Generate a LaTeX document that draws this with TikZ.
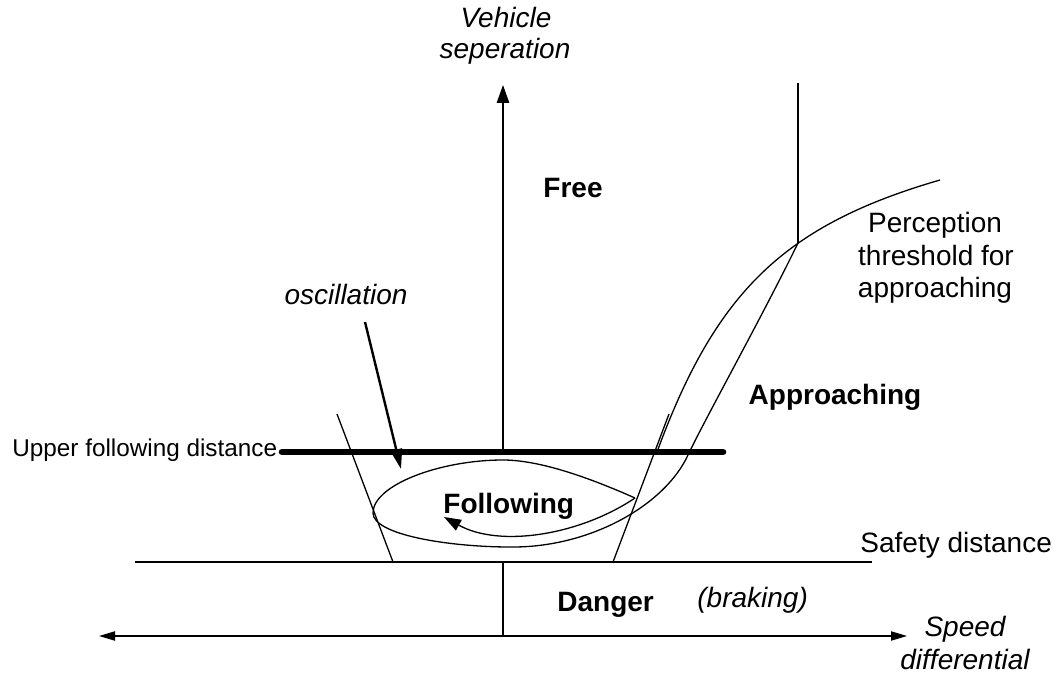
\documentclass[tikz,border=0pt]{standalone}
\usepackage{fontspec}
\setmainfont{Liberation Sans}
\usetikzlibrary{arrows.meta}
\begin{document}
\begin{tikzpicture}[x=0.5pt,y=-0.5pt,
  thin line/.style={line width=0.65pt, line join=round},
  lbl/.style={inner sep=0pt, font=\fontsize{14pt}{16pt}\selectfont},
  lblb/.style={lbl, font=\fontsize{14pt}{16pt}\selectfont\bfseries},
  lbli/.style={lbl, font=\fontsize{14pt}{16pt}\selectfont\itshape},
  both tips/.style={{Triangle[length=8pt,width=4.6pt]}-{Triangle[length=8pt,width=4.6pt]}}]
\useasboundingbox (0,0) rectangle (1060,673);

% key points
\coordinate (vtop) at (503,85);
\coordinate (vthick) at (503,452);
\coordinate (vsafe) at (503,562);
\coordinate (vaxis) at (503,636);
\coordinate (hleft) at (99,636);
\coordinate (hright) at (907,636);
\coordinate (sleft) at (135,562);
\coordinate (sright) at (872,562);
\coordinate (tleft) at (282,452);
\coordinate (tright) at (723,452);
\coordinate (ltop) at (337,414);
\coordinate (lbot) at (393,562);
\coordinate (rtop) at (669,414);
\coordinate (rbot) at (613,562);
\coordinate (ptop) at (798,83);
\coordinate (pmeet) at (798,243);
\coordinate (pend) at (940,180);
\coordinate (pbot) at (657,452);
\coordinate (tip) at (635,498);
\coordinate (lenstop) at (503,460);
\coordinate (lensleft) at (373,513);
\coordinate (lensbot) at (510,547);
\coordinate (bend) at (688,455);
\coordinate (arrend) at (444,517);
\coordinate (oscA) at (365,322);
\coordinate (oscB) at (401,469);

% axes
\draw[thin line, line width=0.75pt, -{Triangle[length=9pt,width=6.2pt]}] (vthick) -- (vtop);
\draw[thin line] (vsafe) -- (vaxis);
\draw[thin line, both tips] (hleft) -- (hright);

% safety distance line
\draw[thin line] (sleft) -- (sright);

% upper following distance (thick)
\draw[line width=3.3pt, line cap=round] (tleft) -- (tright);

% trapezoid sides
\draw[thin line] (ltop) -- (lbot);
\draw[thin line] (rbot) -- (rtop);

% vertical marker and perception threshold curve
\draw[thin line] (ptop) -- (pmeet);
\draw[thin line] (pend) .. controls (785,225) and (716,291) .. (pbot);

% lens (following) and approaching branch
\draw[thin line] (tip) .. controls (590,478) and (540,460) .. (lenstop)
  .. controls (440,460) and (373,485) .. (lensleft)
  .. controls (373,535) and (450,547) .. (lensbot)
  .. controls (590,548) and (665,505) .. (bend)
  .. controls (705,419) and (763,315) .. (pmeet);

% oscillation return arrow
\draw[thin line, -{Triangle[length=8.5pt,width=6pt]}] (tip) .. controls (580,535) and (500,548) .. (arrend);

% oscillation pointer
\draw[line width=1.2pt, -{Triangle[length=10pt,width=5.8pt]}] (oscA) -- (oscB);

% labels
\node[lbli, anchor=base] (veh1) at (506,28) {Vehicle};
\node[lbli, anchor=base] (veh2) at (505,59) {seperation};
\node[lblb, anchor=base] (free) at (573,198) {Free};
\node[lbli, anchor=base] (osc) at (346,305) {oscillation};
\node[lbl, anchor=base] (perc1) at (935,233) {Perception};
\node[lbl, anchor=base] (perc2) at (936,266) {threshold for};
\node[lbl, anchor=base] (perc3) at (935,298) {approaching};
\node[lblb, anchor=base] (appr) at (835,405) {Approaching};
\node[inner sep=0pt, font=\fontsize{12.15pt}{14pt}\selectfont, anchor=base west] (upper) at (12,457) {Upper following distance};
\node[lblb, anchor=base west] (follow) at (443,513) {Following};
\node[lbl, anchor=base west] (safety) at (860,552) {Safety distance};
\node[lblb, anchor=base west] (danger) at (557,611) {Danger};
\node[lbli, anchor=base west] (brak) at (697,607) {(braking)};
\node[lbli, anchor=base] (speed1) at (965,636) {Speed};
\node[lbli, anchor=base] (speed2) at (965,669) {differential};
\end{tikzpicture}
\end{document}
